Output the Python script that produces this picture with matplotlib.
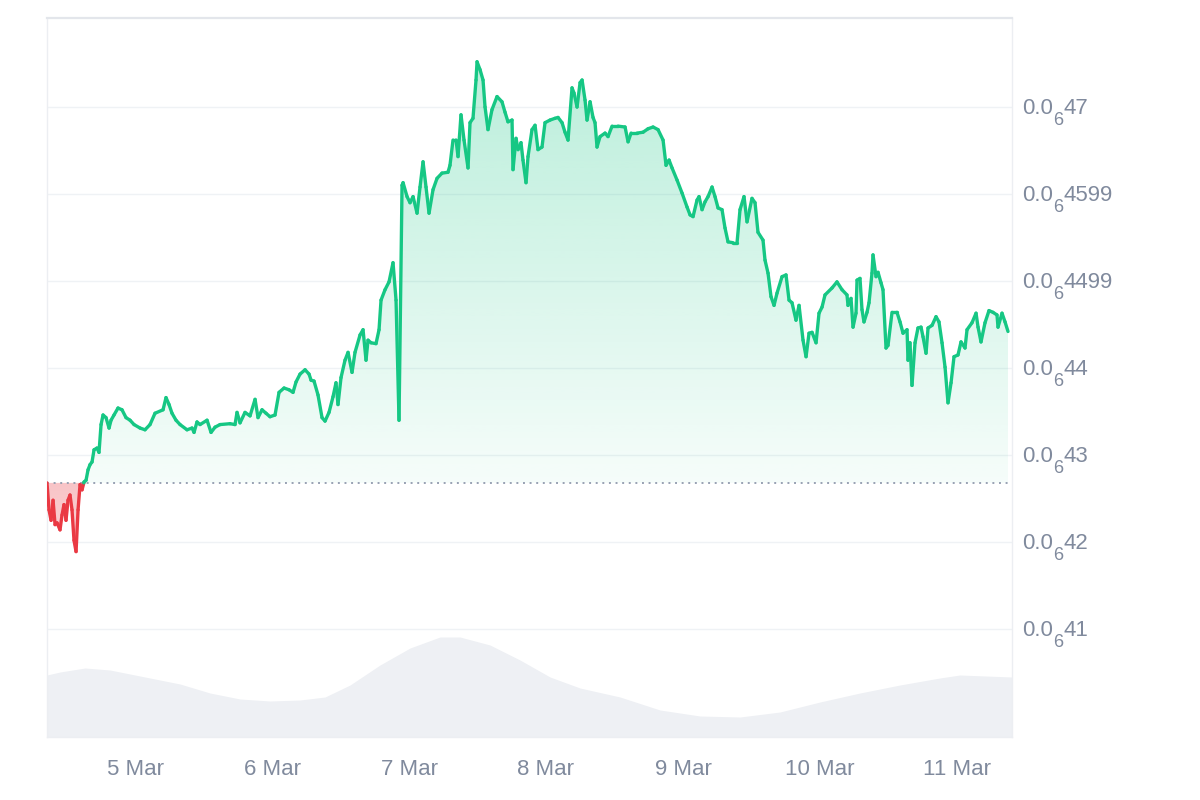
import numpy as np
import matplotlib
matplotlib.use("Agg")
import matplotlib.pyplot as plt
import matplotlib.dates as mdates
from matplotlib.collections import LineCollection
from matplotlib.patches import PathPatch
from matplotlib.colors import to_rgb

# ---------------- data ----------------
# hours since 2024-03-04 00:00
hours = [8.58, 8.93, 9.29, 9.64, 9.99, 10.34, 10.86, 11.21, 11.56, 11.91, 12.26, 12.61, 12.96,
         13.31, 13.67, 14.02, 14.37, 14.72, 15.07, 15.42, 15.77, 16.12, 16.47, 16.82, 17.34,
         17.69, 18.05, 18.40, 18.92, 19.45, 19.80, 20.32, 21.02, 21.72, 22.42, 23.13, 23.83,
         24.88, 25.75, 26.63, 27.50, 28.91, 29.43, 29.96, 30.48, 31.18, 31.89, 33.11, 33.99,
         34.34, 34.86, 35.39, 36.62, 37.32, 38.02, 38.89, 40.64, 41.52, 41.87, 42.40, 43.27,
         44.15, 45.03, 45.55, 46.25, 46.95, 47.65, 48.53, 49.23, 50.11, 50.98, 51.68, 52.21,
         52.91, 53.79, 54.49, 54.84, 55.36, 56.06, 56.76, 57.29, 57.99, 58.69, 59.21, 59.56,
         60.09, 60.79, 61.32, 62.02, 62.54, 63.42, 63.95, 64.47, 64.82, 65.35, 66.22, 66.75,
         67.10, 67.80, 68.50, 69.20, 69.73, 70.25, 70.78, 70.96, 71.66, 72.18, 72.71, 73.41,
         73.93, 74.46, 74.98, 75.51, 76.21, 76.91, 77.78, 78.83, 79.18, 79.71, 80.24, 80.59,
         81.11, 81.64, 82.34, 82.69, 83.21, 83.74, 83.92, 84.44, 84.97, 85.32, 85.84, 86.54,
         87.42, 88.29, 88.82, 89.34, 90.05, 90.22, 90.75, 91.10, 91.62, 91.97, 92.50, 92.85,
         93.55, 94.08, 94.60, 95.30, 95.83, 96.71, 97.58, 98.11, 98.81, 99.33, 99.86, 100.56,
         100.91, 101.44, 101.97, 102.32, 102.84, 103.19, 103.72, 104.24, 104.59, 104.94,
         105.47, 106.35, 106.87, 107.57, 108.62, 109.85, 110.38, 110.90, 111.95, 113.00,
         113.88, 114.76, 115.63, 116.51, 117.03, 117.56, 118.08, 118.96, 119.84, 120.71,
         121.24, 121.76, 122.46, 122.81, 123.34, 123.86, 124.39, 125.09, 125.61, 126.14,
         126.84, 127.36, 127.89, 128.77, 129.47, 129.99, 130.69, 131.22, 132.09, 132.62,
         133.14, 134.02, 134.37, 134.90, 135.42, 135.95, 136.47, 137.35, 138.05, 138.58,
         139.10, 139.80, 140.33, 141.03, 141.56, 142.08, 142.61, 143.31, 143.83, 144.36,
         144.88, 146.11, 146.98, 147.86, 148.73, 148.91, 149.44, 149.79, 150.31, 150.49,
         151.01, 151.36, 151.71, 152.24, 152.59, 153.11, 153.29, 153.82, 154.17, 154.69,
         155.04, 155.57, 155.92, 156.62, 157.49, 158.02, 158.55, 159.25, 159.42, 159.77,
         160.12, 160.65, 161.17, 161.70, 162.05, 162.58, 162.93, 163.63, 164.33, 164.85,
         165.38, 165.91, 166.43, 166.96, 167.48, 168.18, 168.71, 169.41, 169.76, 170.63,
         171.34, 171.69, 172.21, 172.91, 173.61, 174.31, 175.01, 175.19, 175.89, 176.42,
         176.94]

# price in units of 1e-8
price = [42.68, 42.37, 42.25, 42.48, 42.20, 42.22, 42.14, 42.31, 42.43, 42.25, 42.48, 42.54, 42.37,
         42.02, 41.89, 42.37, 42.66, 42.60, 42.69, 42.71, 42.83, 42.89, 42.92, 43.06, 43.08,
         43.03, 43.35, 43.46, 43.43, 43.31, 43.40, 43.46, 43.54, 43.52, 43.43, 43.40, 43.35,
         43.31, 43.29, 43.35, 43.48, 43.52, 43.66, 43.58, 43.48, 43.40, 43.35, 43.29, 43.31,
         43.26, 43.38, 43.35, 43.40, 43.26, 43.32, 43.35, 43.36, 43.35, 43.49, 43.37, 43.49,
         43.45, 43.64, 43.43, 43.52, 43.48, 43.44, 43.46, 43.72, 43.77, 43.75, 43.72, 43.84,
         43.93, 43.98, 43.93, 43.86, 43.85, 43.69, 43.43, 43.39, 43.49, 43.67, 43.83, 43.58,
         43.89, 44.09, 44.18, 43.95, 44.18, 44.38, 44.44, 44.09, 44.32, 44.29, 44.28, 44.44,
         44.78, 44.90, 44.99, 45.21, 44.78, 43.40, 46.10, 46.13, 45.97, 45.90, 45.97, 45.78,
         46.08, 46.37, 46.08, 45.78, 46.05, 46.18, 46.24, 46.25, 46.33, 46.62, 46.62, 46.43,
         46.91, 46.62, 46.30, 46.82, 46.87, 47.31, 47.52, 47.43, 47.31, 47.00, 46.74, 46.97,
         47.12, 47.06, 46.94, 46.83, 46.85, 46.28, 46.64, 46.51, 46.59, 46.39, 46.13, 46.43,
         46.74, 46.79, 46.51, 46.54, 46.82, 46.85, 46.87, 46.88, 46.82, 46.71, 46.62, 47.22,
         47.16, 47.00, 47.28, 47.31, 47.08, 46.85, 47.06, 46.88, 46.82, 46.54,
         46.66, 46.70, 46.66, 46.78, 46.78, 46.77, 46.60, 46.70, 46.70, 46.71,
         46.75, 46.77, 46.74, 46.62, 46.33, 46.39, 46.30, 46.16, 46.01, 45.85,
         45.76, 45.74, 45.93, 45.97, 45.82, 45.91, 45.97, 46.08, 45.97, 45.84,
         45.82, 45.61, 45.45, 45.44, 45.44, 45.82, 45.97, 45.68, 45.95, 45.90,
         45.56, 45.47, 45.24, 45.09, 44.82, 44.72, 44.86, 45.05, 45.07, 44.78,
         44.75, 44.55, 44.72, 44.32, 44.13, 44.40, 44.41, 44.29, 44.63, 44.70,
         44.84, 44.92, 44.99, 44.90, 44.84, 44.72, 44.80, 44.47, 44.63, 45.01,
         45.03, 44.67, 44.53, 44.64, 44.75, 45.09, 45.30, 45.05, 45.10, 44.98,
         44.90, 44.23, 44.26, 44.64, 44.64, 44.53, 44.40, 44.44, 44.09, 44.29,
         43.80, 44.29, 44.46, 44.47, 44.36, 44.17, 44.46, 44.49, 44.59, 44.53,
         44.29, 44.01, 43.60, 43.83, 44.13, 44.15, 44.30, 44.23, 44.44, 44.52,
         44.63, 44.47, 44.30, 44.52, 44.66, 44.64, 44.61, 44.47, 44.63, 44.53,
         44.42]

vol_hours = [8.58, 10.86, 15.24, 19.62, 24.88, 31.89, 37.14, 42.40, 47.65, 52.91, 57.29, 61.67,
             66.92, 72.18, 77.43, 80.94, 86.19, 91.45, 96.71, 101.96, 108.97, 115.98, 122.98,
             129.99, 136.99, 144.00, 151.00, 158.00, 165.00, 168.50, 177.64]
volume = [62, 65, 69, 67, 61, 53, 44, 38, 36, 37, 40, 52, 72, 89, 100, 100, 92, 77, 60, 49,
          40, 27, 21, 20, 25, 35, 44, 52, 59, 62, 60]

baseline_price = 42.68
ytick_values = [47, 46, 45, 44, 43, 42, 41]
# label = prefix + subscript (count of zeros) + significant digits
ytick_prefix = "0.0"
ytick_zeros = "6"
ytick_digits = ["47", "4599", "4499", "44", "43", "42", "41"]
xtick_dates = ["2024-03-05", "2024-03-06", "2024-03-07", "2024-03-08",
               "2024-03-09", "2024-03-10", "2024-03-11"]
xtick_labels = ["5 Mar", "6 Mar", "7 Mar", "8 Mar", "9 Mar", "10 Mar", "11 Mar"]

# ---------------- style ----------------
plt.rcParams["font.family"] = ["Liberation Sans", "DejaVu Sans"]

GREEN = "#16c784"
RED = "#ea3943"
TXT = "#808a9d"
GRID = "#eff2f5"

t0 = mdates.date2num(np.datetime64("2024-03-04T00:00"))
t = t0 + np.array(hours) / 24.0
p = np.array(price)
tv = t0 + np.array(vol_hours) / 24.0
v = np.array(volume)
base = baseline_price

fig = plt.figure(figsize=(12, 8), dpi=100)
W, H = 1200, 800
rect = [47 / W, 1 - 737 / H, (1012 - 47) / W, (737 - 18) / H]
ax2 = fig.add_axes(rect)
ax = fig.add_axes(rect)
ax.patch.set_visible(False)

xlo, xhi = t[0], t0 + 177.64 / 24
ymin, ymax = 39.759, 48.023

# volume
ax2.fill_between(tv, 0, v, color="#eef0f4", lw=0)
ax2.set_ylim(0, 719)
ax2.set_xlim(xlo, xhi)
ax2.axis("off")


def grad_fill(axis, x, y1, y2, color, a_hi, a_lo, y_lo, y_hi):
    poly = axis.fill_between(x, y1, y2, facecolor="none", edgecolor="none")
    path = poly.get_paths()[0]
    patch = PathPatch(path, facecolor="none", edgecolor="none", transform=axis.transData)
    axis.add_patch(patch)
    n = 256
    arr = np.zeros((n, 1, 4))
    arr[:, 0, :3] = to_rgb(color)
    arr[:, 0, 3] = np.linspace(a_lo, a_hi, n)
    im = axis.imshow(arr, extent=[x.min(), x.max(), y_lo, y_hi], origin="lower",
                     aspect="auto", zorder=1, interpolation="bilinear")
    im.set_clip_path(patch)


grad_fill(ax, t, np.full_like(p, base), np.maximum(p, base), GREEN, 0.30, 0.04, base, 47.6)
grad_fill(ax, t, np.minimum(p, base), np.full_like(p, base), RED, 0.30, 0.22, 41.85, base)

# price line with colour split at the baseline
xs, ys = [t[0]], [p[0]]
for i in range(len(t) - 1):
    a, b = p[i] - base, p[i + 1] - base
    if a * b < 0:
        f = a / (a - b)
        xs.append(t[i] + f * (t[i + 1] - t[i]))
        ys.append(base)
    xs.append(t[i + 1])
    ys.append(p[i + 1])
pts = np.column_stack([xs, ys])
segs = np.stack([pts[:-1], pts[1:]], axis=1)
mid = (pts[:-1, 1] + pts[1:, 1]) / 2
cols = [RED if m < base - 1e-9 else GREEN for m in mid]
lc = LineCollection(segs, colors=cols, linewidths=2.4, capstyle="round",
                    joinstyle="round", zorder=3)
ax.add_collection(lc)

ax.axhline(base, color="#98a1b3", lw=1.4, linestyle=(0, (1, 2.4)), zorder=2)

ax.set_xlim(xlo, xhi)
ax.set_ylim(ymin, ymax)

# y ticks: gridlines + hand-set labels with subscript zero-count
ax.set_yticks(ytick_values)
ax.yaxis.tick_right()
ax.tick_params(axis="y", length=0, labelright=False, labelleft=False)
ytr = ax.get_yaxis_transform()
px = 0.72  # points per pixel at 100 dpi
for val, dig in zip(ytick_values, ytick_digits):
    ax.annotate(ytick_prefix, xy=(1, val), xycoords=ytr, xytext=(10 * px, -7 * px),
                textcoords="offset points", ha="left", va="baseline",
                fontsize=16, color=TXT, annotation_clip=False)
    ax.annotate(ytick_zeros, xy=(1, val), xycoords=ytr, xytext=(41 * px, -18 * px),
                textcoords="offset points", ha="left", va="baseline",
                fontsize=13, color=TXT, annotation_clip=False)
    ax.annotate(dig, xy=(1, val), xycoords=ytr, xytext=(51 * px, -7 * px),
                textcoords="offset points", ha="left", va="baseline",
                fontsize=16, color=TXT, annotation_clip=False)

ax.set_xticks([mdates.date2num(np.datetime64(d)) for d in xtick_dates])
ax.set_xticklabels(xtick_labels)
ax.tick_params(axis="x", length=0, pad=16, labelsize=16, labelcolor=TXT)
ax.grid(axis="y", color=GRID, lw=1)
ax.set_axisbelow(True)
for name, s in ax.spines.items():
    s.set_color("#eceef2")
    s.set_linewidth(1)
ax.spines["top"].set_color("#e3e6eb")
ax.spines["top"].set_linewidth(1.6)

fig.savefig("out.png", dpi=100)
